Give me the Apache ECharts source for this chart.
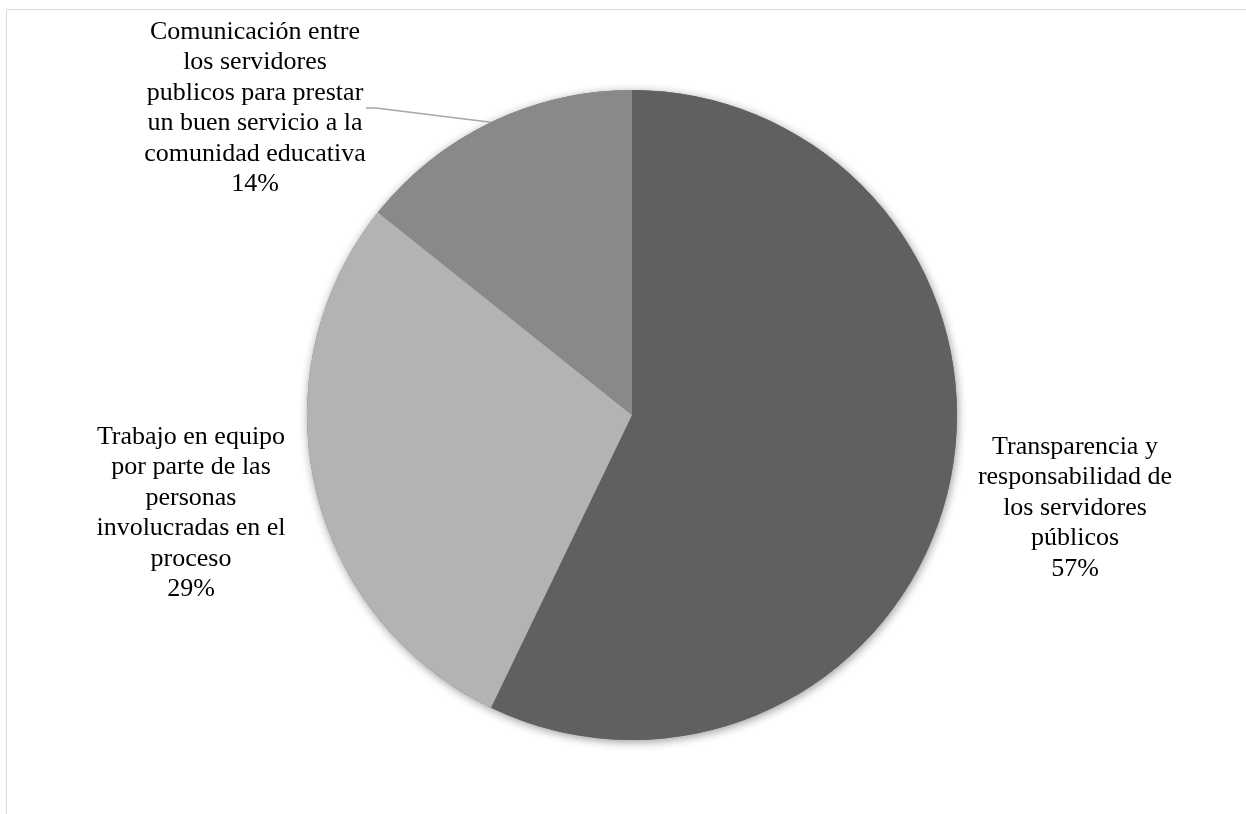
<!DOCTYPE html>
<html><head><meta charset="utf-8">
<script src="https://cdn.jsdelivr.net/npm/echarts@6/dist/echarts.min.js"></script>
<style>html,body{margin:0;padding:0;background:#fff}#c{width:1246px;height:814px}</style>
</head><body><div id="c"></div>
<script>
const categories = [
  "Transparencia y\nresponsabilidad de\nlos servidores\npúblicos",
  "Trabajo en equipo\npor parte de las\npersonas\ninvolucradas en el\nproceso",
  "Comunicación entre\nlos servidores\npublicos para prestar\nun buen servicio a la\ncomunidad educativa"
];
const values = [4, 2, 1];
const percentLabels = ["57%", "29%", "14%"];
const colors = ["#606060", "#b3b3b3", "#898989"];

// label anchor positions (layout only)
const labelPos = [
  {x: 1075, y: 508},
  {x: 191, y: 513},
  {x: 255, y: 108}
];

const chart = echarts.init(document.getElementById('c'));
chart.setOption({
  animation: false,
  graphic: [{
    type: 'rect', shape: {x: 6.5, y: 9.5, width: 1300, height: 900},
    style: {fill: 'none', stroke: '#d9d9d9', lineWidth: 1}, silent: true
  }],
  series: [{
    // shadow backdrop for the whole pie
    type: 'pie', silent: true, z: 1,
    center: [632, 415], radius: [0, 325],
    data: [{value: 1, name: 'bg'}],
    itemStyle: {color: '#777', shadowBlur: 10, shadowColor: 'rgba(0,0,0,0.4)', shadowOffsetX: 1, shadowOffsetY: 2},
    label: {show: false}, labelLine: {show: false}
  }, {
    type: 'pie', z: 2,
    center: [632, 415],
    radius: [0, 325],
    startAngle: 90,
    clockwise: true,
    data: categories.map((c, i) => ({
      name: c, value: values[i],
      itemStyle: {color: colors[i]},
      labelLine: {show: i === 2}
    })),
    itemStyle: {borderWidth: 0},
    label: {
      show: true, position: 'outside',
      formatter: p => p.name + '\n' + percentLabels[p.dataIndex],
      fontFamily: 'Liberation Serif', fontSize: 26, lineHeight: 30.5,
      color: '#000', align: 'center'
    },
    labelLine: {lineStyle: {color: '#a6a6a6', width: 1.5}, length: 10, length2: 10, smooth: false},
    labelLayout: function (params) {
      const p = labelPos[params.dataIndex];
      return {x: p.x, y: p.y, align: 'center', verticalAlign: 'middle'};
    }
  }]
});
</script></body></html>
